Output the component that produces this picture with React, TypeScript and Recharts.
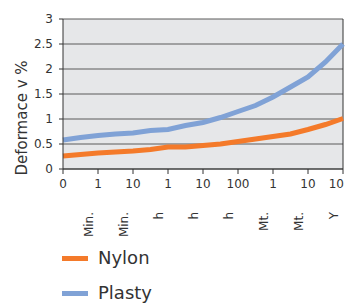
import React from "react";
import {
  LineChart,
  Line,
  XAxis,
  YAxis,
  CartesianGrid,
  ReferenceLine,
} from "recharts";

const tickNumbers = ["0", "1", "10", "1", "10", "100", "1", "10", "10"];
const tickUnits = ["", "Min.", "Min.", "h", "h", "h", "Mt.", "Mt.", "Y"];
const positions = [0, 0.5, 1, 1.5, 2, 2.5, 3, 3.5, 4, 4.5, 5, 5.5, 6, 6.5, 7, 7.5, 8];
const nylon = [0.26, 0.29, 0.32, 0.34, 0.36, 0.39, 0.44, 0.44, 0.47, 0.5, 0.55, 0.6, 0.65, 0.7, 0.79, 0.89, 1.01];
const plasty = [0.58, 0.63, 0.67, 0.7, 0.72, 0.77, 0.79, 0.87, 0.93, 1.03, 1.15, 1.27, 1.44, 1.64, 1.84, 2.14, 2.5];
const yTicks = [0, 0.5, 1, 1.5, 2, 2.5, 3];

const data = positions.map((x, i) => ({ x, nylon: nylon[i], plasty: plasty[i] }));

const FONT = "'DejaVu Sans', sans-serif";
const TEXT = "#333";

function XTick({ x, y, payload }: any) {
  const i = Math.round(payload.value);
  const last = i === tickNumbers.length - 1;
  return (
    <g>
      <text
        x={last ? x + 1 : x}
        y={y + 12}
        textAnchor={last ? "end" : "middle"}
        fontSize={12}
        fill={TEXT}
        fontFamily={FONT}
      >
        {tickNumbers[i]}
      </text>
      {tickUnits[i] && (
        <text
          x={x - 5}
          y={y + 36}
          transform={`rotate(-90 ${x - 5} ${y + 36})`}
          textAnchor="end"
          fontSize={12}
          fill={TEXT}
          fontFamily={FONT}
        >
          {tickUnits[i]}
        </text>
      )}
    </g>
  );
}

function Legend() {
  const items = [
    { name: "Nylon", color: "#f47a2a", top: 248 },
    { name: "Plasty", color: "#80a2d6", top: 283 },
  ];
  return (
    <>
      {items.map((it) => (
        <div key={it.name} style={{ position: "absolute", left: 62, top: it.top, display: "flex", alignItems: "center" }}>
          <div style={{ width: 26, height: 5, background: it.color }} />
          <span style={{ marginLeft: 10, fontSize: 18, fontFamily: FONT, color: TEXT, lineHeight: "20px" }}>
            {it.name}
          </span>
        </div>
      ))}
    </>
  );
}

export default function App() {
  return (
    <div style={{ position: "absolute", left: 0, top: 0, width: 345, height: 306, background: "#fff" }}>
      <LineChart width={345} height={306} data={data} margin={{ top: 19, right: 2, bottom: 77, left: 0 }}>
        <CartesianGrid vertical={false} fill="#e6e7e9" stroke="#5a5a5a" strokeWidth={1} />
        <XAxis
          dataKey="x"
          type="number"
          domain={[0, 8]}
          ticks={[0, 1, 2, 3, 4, 5, 6, 7, 8]}
          tick={<XTick />}
          tickSize={5}
          height={60}
          stroke="#333"
          interval={0}
        />
        <YAxis
          domain={[0, 3]}
          ticks={yTicks}
          width={63}
          tickSize={4}
          tickMargin={6}
          stroke="#333"
          tick={{ fontSize: 12, fill: TEXT, fontFamily: FONT }}
          label={() => (
            <text
              x={22}
              y={118}
              transform="rotate(-90 22 118)"
              textAnchor="middle"
              dominantBaseline="central"
              fontSize={15}
              fill={TEXT}
              fontFamily={FONT}
            >
              Deformace v %
            </text>
          )}
        />
        <ReferenceLine x={8} stroke="#333" />
        <Line dataKey="nylon" stroke="#f47a2a" strokeWidth={5} dot={false} isAnimationActive={false} />
        <Line dataKey="plasty" stroke="#80a2d6" strokeWidth={5} dot={false} isAnimationActive={false} />
      </LineChart>
      <Legend />
    </div>
  );
}
